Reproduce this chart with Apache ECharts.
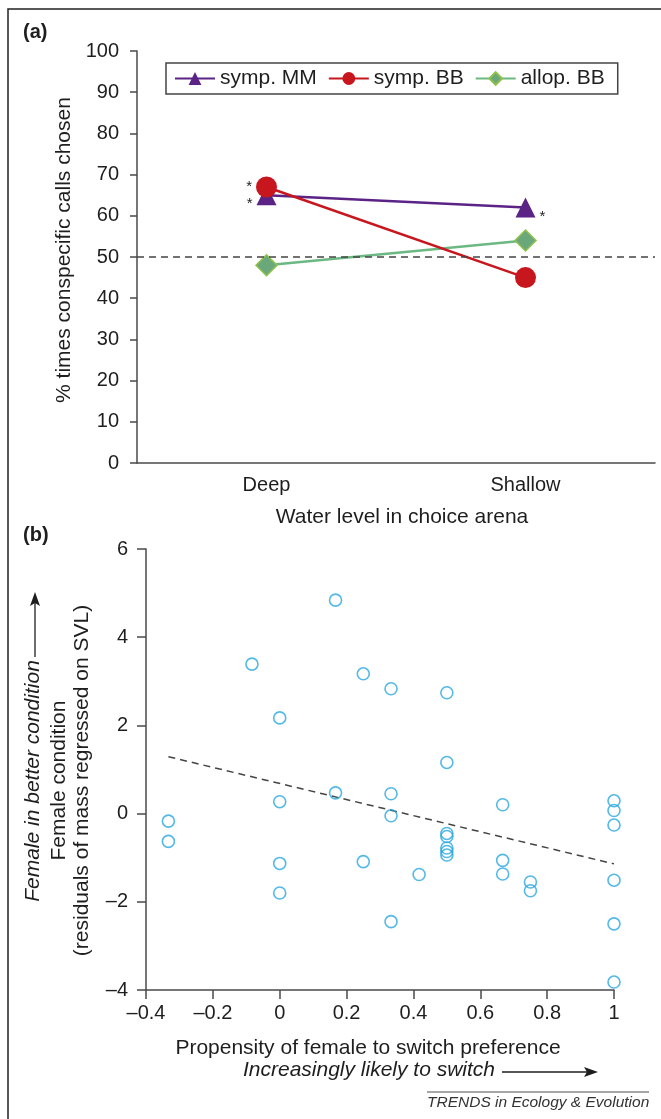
<!DOCTYPE html>
<html>
<head>
<meta charset="utf-8">
<script src="https://cdn.jsdelivr.net/npm/echarts@6/dist/echarts.min.js"></script>
<style>
  html, body { margin: 0; padding: 0; background: #fff; }
  #chart { width: 661px; height: 1119px; }
</style>
</head>
<body>
<div id="chart"></div>
<script>
// panel (a): choice tests by water level
const waterLevels = ['Deep', 'Shallow']
const sympMM = [65, 62]
const sympBB = [67, 45]
const allopBB = [48, 54]
// significance stars next to points
const sympMMSig = [true, true]
const sympBBSig = [true, false]
const allopBBSig = [false, false]
const chanceLevel = 50

// panel (b): condition vs propensity to switch
const switchX = [-0.333, -0.333, -0.083, 0, 0, 0, 0, 0.167, 0.167, 0.25, 0.25,
    0.333, 0.333, 0.333, 0.333, 0.417, 0.5, 0.5, 0.5, 0.5, 0.5, 0.5, 0.5,
    0.667, 0.667, 0.667, 0.75, 0.75, 1, 1, 1, 1, 1, 1]
const conditionY = [-0.17, -0.63, 3.39, 2.17, 0.27, -1.13, -1.8, 4.84, 0.47, 3.17, -1.09,
    2.83, 0.45, -0.05, -2.45, -1.38, 2.74, 1.16, -0.45, -0.52, -0.78, -0.86, -0.94,
    0.2, -1.06, -1.37, -1.55, -1.75, 0.29, 0.07, -0.26, -1.51, -2.5, -3.82]
const trendX = [-0.333, 1]
const trendY = [1.29, -1.14]

const FONT = '"Liberation Sans", Arial, sans-serif'
const TXT = '#1e1e1e'
const AXIS = '#4a4a4a'

const minus = (v) => {
    const n = Math.round(v * 10) / 10
    return n < 0 ? '\u2013' + Math.abs(n) : String(n)
}

const starData = (vals, sig, offsetY) => vals.map((v, i) => ({
    value: v,
    label: {
        show: sig[i],
        formatter: '*',
        position: i === 0 ? 'left' : 'right',
        distance: 4,
        offset: [0, offsetY],
        fontSize: 15,
        color: TXT,
        fontFamily: FONT
    }
}))

const chart = echarts.init(document.getElementById('chart'), null, { renderer: 'canvas' })

const option = {
    animation: false,
    backgroundColor: '#fff',
    textStyle: { fontFamily: FONT, color: TXT },
    grid: [
        { left: 137, right: 6, top: 51, bottom: 656 },
        { left: 146, right: 47, top: 549, bottom: 129 }
    ],
    legend: {
        data: ['symp. MM', 'symp. BB', 'allop. BB'],
        left: 166,
        top: 63,
        orient: 'horizontal',
        itemWidth: 40,
        itemHeight: 16,
        itemGap: 11,
        padding: [5, 13, 5, 8],
        borderColor: '#444',
        borderWidth: 1.5,
        textStyle: { fontSize: 21, color: TXT, fontFamily: FONT }
    },
    xAxis: [
        {
            gridIndex: 0,
            type: 'category',
            data: waterLevels,
            boundaryGap: true,
            name: 'Water level in choice arena',
            nameLocation: 'middle',
            nameGap: 44,
            nameTextStyle: { fontSize: 21, color: TXT, padding: [0, 0, 0, 12] },
            axisLine: { lineStyle: { color: AXIS, width: 1.5 } },
            axisTick: { length: 7, lineStyle: { color: AXIS, width: 1.5 } },
            axisLabel: { fontSize: 20, color: TXT, margin: 12 },
            splitLine: { show: false }
        },
        {
            gridIndex: 1,
            type: 'value',
            min: -0.4,
            max: 1,
            interval: 0.2,
            name: 'Propensity of female to switch preference',
            nameLocation: 'middle',
            nameGap: 48,
            nameTextStyle: { fontSize: 21, color: TXT, padding: [0, 24, 0, 0] },
            axisLine: { onZero: false, lineStyle: { color: AXIS, width: 1.5 } },
            axisTick: { length: 9, lineStyle: { color: AXIS, width: 1.5 } },
            axisLabel: { fontSize: 20, color: TXT, margin: 13, formatter: minus },
            splitLine: { show: false }
        }
    ],
    yAxis: [
        {
            gridIndex: 0,
            type: 'value',
            min: 0,
            max: 100,
            interval: 10,
            name: '% times conspecific calls chosen',
            nameLocation: 'middle',
            nameGap: 61,
            nameTextStyle: { fontSize: 21, color: TXT, padding: [0, 0, 0, 14] },
            axisLine: { show: true, lineStyle: { color: AXIS, width: 1.5 } },
            axisTick: { show: true, length: 7, lineStyle: { color: AXIS, width: 1.5 } },
            axisLabel: { fontSize: 20, color: TXT, margin: 18 },
            splitLine: { show: false }
        },
        {
            gridIndex: 1,
            type: 'value',
            min: -4,
            max: 6,
            interval: 2,
            name: 'Female condition\n(residuals of mass regressed on SVL)',
            nameLocation: 'middle',
            nameGap: 52,
            nameTextStyle: { fontSize: 21, color: TXT, lineHeight: 23, padding: [0, 22, 0, 0] },
            axisLine: { show: true, onZero: false, lineStyle: { color: AXIS, width: 1.5 } },
            axisTick: { show: true, length: 9, lineStyle: { color: AXIS, width: 1.5 } },
            axisLabel: { fontSize: 20, color: TXT, margin: 18, formatter: minus },
            splitLine: { show: false }
        }
    ],
    series: [
        {
            name: 'symp. MM',
            type: 'line',
            xAxisIndex: 0,
            yAxisIndex: 0,
            data: starData(sympMM, sympMMSig, 9),
            symbol: 'triangle',
            symbolSize: 20,
            lineStyle: { color: '#5b2386', width: 2.5 },
            itemStyle: { color: '#5b2386' },
            markLine: {
                silent: true,
                symbol: ['none', 'none'],
                label: { show: false },
                lineStyle: { color: '#444', width: 1.5, type: [7, 5] },
                data: [{ yAxis: chanceLevel }]
            },
            z: 3
        },
        {
            name: 'symp. BB',
            type: 'line',
            xAxisIndex: 0,
            yAxisIndex: 0,
            data: starData(sympBB, sympBBSig, 0),
            symbol: 'circle',
            symbolSize: 21,
            lineStyle: { color: '#c8161e', width: 2.5 },
            itemStyle: { color: '#c8161e' },
            z: 4
        },
        {
            name: 'allop. BB',
            type: 'line',
            xAxisIndex: 0,
            yAxisIndex: 0,
            data: starData(allopBB, allopBBSig, 0),
            symbol: 'diamond',
            symbolSize: 21,
            lineStyle: { color: '#6cb883', width: 2.5 },
            itemStyle: { color: '#6aa87b', borderColor: '#8fc24a', borderWidth: 1.5 },
            z: 3
        },
        {
            name: 'trend',
            type: 'line',
            xAxisIndex: 1,
            yAxisIndex: 1,
            data: trendX.map((x, i) => [x, trendY[i]]),
            symbol: 'none',
            lineStyle: { color: '#444', width: 1.5, type: [7, 5] },
            z: 2
        },
        {
            name: 'females',
            type: 'scatter',
            xAxisIndex: 1,
            yAxisIndex: 1,
            data: switchX.map((x, i) => [x, conditionY[i]]),
            symbol: 'circle',
            symbolSize: 12,
            itemStyle: { color: 'rgba(255,255,255,0)', borderColor: '#29a8e0', borderWidth: 1.6 },
            z: 3
        }
    ],
    graphic: [
        // frame
        { type: 'rect', shape: { x: 8, y: 9, width: 700, height: 1200 }, style: { fill: 'none', stroke: '#222', lineWidth: 1.5 }, silent: true },
        { type: 'text', left: 23, top: 22, style: { text: '(a)', font: 'bold 20px ' + FONT, fill: TXT } },
        { type: 'text', left: 23, top: 525, style: { text: '(b)', font: 'bold 20px ' + FONT, fill: TXT } },
        // italic y annotation with arrow
        {
            type: 'text', x: 33, y: 781, rotation: Math.PI / 2,
            style: { text: 'Female in better condition', font: 'italic 21px ' + FONT, fill: TXT, align: 'center', verticalAlign: 'middle', textAlign: 'center', textVerticalAlign: 'middle' }
        },
        { type: 'line', shape: { x1: 35, y1: 657, x2: 35, y2: 602 }, style: { stroke: TXT, lineWidth: 1.3 } },
        { type: 'polygon', shape: { points: [[35, 592], [30, 606], [35, 603], [40, 606]] }, style: { fill: TXT } },
        // italic x annotation with arrow
        {
            type: 'text', x: 369, y: 1070,
            style: { text: 'Increasingly likely to switch', font: 'italic 21px ' + FONT, fill: TXT, align: 'center', verticalAlign: 'middle', textAlign: 'center', textVerticalAlign: 'middle' }
        },
        { type: 'line', shape: { x1: 502, y1: 1072, x2: 588, y2: 1072 }, style: { stroke: TXT, lineWidth: 1.3 } },
        { type: 'polygon', shape: { points: [[598, 1072], [584, 1067], [587, 1072], [584, 1077]] }, style: { fill: TXT } },
        // footer
        { type: 'line', shape: { x1: 427, y1: 1092, x2: 649, y2: 1092 }, style: { stroke: '#888', lineWidth: 1.5 } },
        {
            type: 'text', x: 427, y: 1103,
            style: { text: 'TRENDS in Ecology & Evolution', font: 'italic 15.5px ' + FONT, fill: '#333', align: 'left', verticalAlign: 'middle', textAlign: 'left', textVerticalAlign: 'middle' }
        }
    ]
}

chart.setOption(option)
</script>
</body>
</html>
